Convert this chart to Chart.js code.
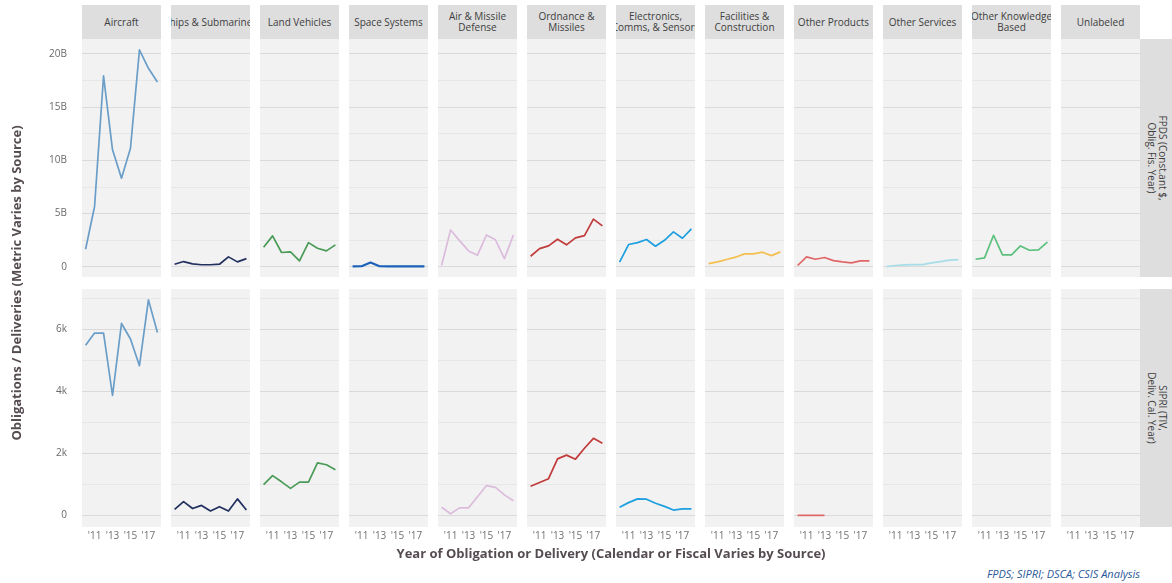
<!DOCTYPE html>
<html>
<head>
<meta charset="utf-8">
<script src="https://cdn.jsdelivr.net/npm/chart.js@4.4.1/dist/chart.umd.min.js"></script>
<style>
  html, body { margin: 0; padding: 0; background: #ffffff; }
  #wrap { position: relative; width: 1172px; height: 583px; overflow: hidden; font-family: 'Open Sans', sans-serif; }
  .strip { position: absolute; background: #dedede; color: #3d3d3d; font-size: 10px; line-height: 10.7px;
           display: flex; align-items: center; justify-content: center; text-align: center;
           white-space: pre; overflow: hidden; }
  .rstrip { position: absolute; background: #dedede; overflow: hidden; }
  .rstrip .inner { position: absolute; color: #3d3d3d; font-size: 10px; line-height: 10.7px;
                   display: flex; align-items: center; justify-content: center; text-align: center;
                   white-space: pre; transform: rotate(90deg); }
  .panel { position: absolute; }
  .title { position: absolute; color: #554c52; font-weight: 700; font-size: 13px; text-align: center; white-space: nowrap; }
  .caption { position: absolute; color: #2b5797; font-style: italic; font-size: 11px; white-space: nowrap; }
</style>
</head>
<body>
<div id="wrap"></div>
<script>
// Years on the x axis and the labelled ticks
const years = [2010, 2011, 2012, 2013, 2014, 2015, 2016, 2017, 2018];
const xTickYears = [2011, 2013, 2015, 2017];

// Facet columns (product / service categories)
const categories = [
  'Aircraft', 'Ships & Submarines', 'Land Vehicles', 'Space Systems',
  'Air & Missile\nDefense', 'Ordnance &\nMissiles', 'Electronics,\nComms, & Sensors',
  'Facilities &\nConstruction', 'Other Products', 'Other Services',
  'Other Knowledge\nBased', 'Unlabeled'
];
const categoryColors = [
  '#6a9ec8', '#22305f', '#4a9b57', '#1a62b8', '#dcbcdc', '#c23b3b',
  '#1d9fe0', '#f4bf4f', '#e06666', '#a6dde8', '#5bbf7d', '#999999'
];

// Facet rows (data source)
const sources = ['FPDS (Const.ant $,\nOblig. Fis. Year)', 'SIPRI (TIV,\nDeliv. Cal. Year)'];

// FPDS obligations, billions of constant dollars
const fpdsAircraft      = [1.66, 5.67, 17.93, 10.99, 8.33, 11.14, 20.38, 18.65, 17.37];
const fpdsShips         = [0.25, 0.50, 0.28, 0.20, 0.20, 0.25, 0.94, 0.47, 0.78];
const fpdsLand          = [1.85, 2.91, 1.35, 1.41, 0.56, 2.28, 1.75, 1.50, 2.07];
const fpdsSpace         = [0.05, 0.06, 0.41, 0.06, 0.04, 0.04, 0.04, 0.04, 0.04];
const fpdsAirMissile    = [0.13, 3.47, 2.47, 1.50, 1.10, 3.00, 2.54, 0.78, 3.00];
const fpdsOrdnance      = [1.00, 1.72, 1.97, 2.60, 2.07, 2.72, 2.94, 4.48, 3.85];
const fpdsElectronics   = [0.44, 2.10, 2.28, 2.57, 1.94, 2.50, 3.29, 2.69, 3.57];
const fpdsFacilities    = [0.31, 0.47, 0.69, 0.91, 1.22, 1.22, 1.38, 1.06, 1.41];
const fpdsOtherProducts = [0.13, 0.94, 0.72, 0.88, 0.59, 0.47, 0.38, 0.56, 0.56];
const fpdsOtherServices = [0.03, 0.13, 0.19, 0.22, 0.22, 0.38, 0.50, 0.63, 0.69];
const fpdsKnowledge     = [0.72, 0.85, 2.97, 1.13, 1.13, 1.97, 1.56, 1.60, 2.32];
const fpdsUnlabeled     = [];

// SIPRI deliveries, thousands of TIV
const sipriAircraft      = [5.48, 5.87, 5.87, 3.86, 6.18, 5.68, 4.82, 6.94, 5.89];
const sipriShips         = [0.19, 0.44, 0.22, 0.32, 0.14, 0.28, 0.14, 0.53, 0.17];
const sipriLand          = [0.99, 1.28, 1.08, 0.87, 1.07, 1.07, 1.69, 1.63, 1.47];
const sipriSpace         = [];
const sipriAirMissile    = [0.26, 0.05, 0.24, 0.24, 0.60, 0.96, 0.90, 0.66, 0.47];
const sipriOrdnance      = [0.94, 1.06, 1.18, 1.82, 1.94, 1.81, 2.16, 2.48, 2.32];
const sipriElectronics   = [0.26, 0.41, 0.53, 0.52, 0.39, 0.29, 0.17, 0.21, 0.21];
const sipriFacilities    = [];
const sipriOtherProducts = [0, 0, 0, 0];
const sipriOtherServices = [];
const sipriKnowledge     = [];
const sipriUnlabeled     = [];

// Y tick labels / grid values per row
const fpdsTicks  = [0, 5, 10, 15, 20];
const fpdsMinor  = [2.5, 7.5, 12.5, 17.5];
const sipriTicks = [0, 2, 4, 6];
const sipriMinor = [1, 3, 5, 7];

const fpdsSeries = [fpdsAircraft, fpdsShips, fpdsLand, fpdsSpace, fpdsAirMissile, fpdsOrdnance,
  fpdsElectronics, fpdsFacilities, fpdsOtherProducts, fpdsOtherServices, fpdsKnowledge, fpdsUnlabeled];
const sipriSeries = [sipriAircraft, sipriShips, sipriLand, sipriSpace, sipriAirMissile, sipriOrdnance,
  sipriElectronics, sipriFacilities, sipriOtherProducts, sipriOtherServices, sipriKnowledge, sipriUnlabeled];

// Layout of the facet grid
const FONT = "'Open Sans', sans-serif";
const PANEL_LEFT = 82, PANEL_STEP = 89, PANEL_W = 79, PANEL_H = 238;
const ROW_TOP = [39, 289];
const Y_AXIS_W = 60, X_AXIS_H = 20;
const STRIP_TOP = 5, STRIP_H = 34;

const rows = [
  { series: fpdsSeries, min: -0.95, max: 21.4, major: fpdsTicks, minor: fpdsMinor, fmt: v => v === 0 ? '0' : v + 'B' },
  { series: sipriSeries, min: -0.375, max: 7.29, major: sipriTicks, minor: sipriMinor, fmt: v => v === 0 ? '0' : v + 'k' }
];

const wrap = document.getElementById('wrap');

function el(cls, style, text) {
  const d = document.createElement('div');
  d.className = cls;
  Object.assign(d.style, style);
  if (text !== undefined) d.textContent = text;
  wrap.appendChild(d);
  return d;
}

// Column strips
categories.forEach((name, c) => {
  el('strip', { left: (PANEL_LEFT + PANEL_STEP * c) + 'px', top: STRIP_TOP + 'px',
                width: PANEL_W + 'px', height: STRIP_H + 'px' }, name);
});

// Row strips on the right
sources.forEach((name, r) => {
  const s = el('rstrip', { left: (PANEL_LEFT + PANEL_STEP * 12 - 10) + 'px', top: ROW_TOP[r] + 'px',
                           width: '34px', height: PANEL_H + 'px' });
  const inner = document.createElement('div');
  inner.className = 'inner';
  inner.textContent = name;
  Object.assign(inner.style, { width: PANEL_H + 'px', height: '34px',
    left: ((34 - PANEL_H) / 2) + 'px', top: ((PANEL_H - 34) / 2) + 'px' });
  s.appendChild(inner);
});

// One small line chart per facet
function makePanel(r, c) {
  const row = rows[r];
  const isLeft = c === 0, isBottom = r === 1;
  const cv = document.createElement('canvas');
  const w = PANEL_W + (isLeft ? Y_AXIS_W : 0);
  const h = PANEL_H + (isBottom ? X_AXIS_H : 0);
  cv.width = w; cv.height = h;
  cv.className = 'panel';
  cv.style.left = (PANEL_LEFT + PANEL_STEP * c - (isLeft ? Y_AXIS_W : 0)) + 'px';
  cv.style.top = ROW_TOP[r] + 'px';
  cv.style.width = w + 'px'; cv.style.height = h + 'px';
  wrap.appendChild(cv);

  const values = row.series[c];
  const gridVals = row.major.concat(row.minor).sort((a, b) => a - b);

  new Chart(cv, {
    type: 'line',
    data: {
      datasets: values.length ? [{
        data: values.map((v, i) => ({ x: years[i], y: v })),
        borderColor: categoryColors[c],
        borderWidth: c === 3 ? 2.2 : 1.7,
        borderJoinStyle: 'round',
        pointRadius: 0,
        tension: 0,
        fill: false
      }] : []
    },
    options: {
      responsive: false,
      maintainAspectRatio: false,
      animation: false,
      events: [],
      layout: { padding: 0 },
      plugins: { legend: { display: false }, tooltip: { enabled: false } },
      scales: {
        x: {
          type: 'linear', min: 2009.6, max: 2018.4,
          display: isBottom,
          grid: { display: false, drawTicks: false },
          border: { display: false },
          afterBuildTicks: s => { s.ticks = xTickYears.map(v => ({ value: v })); },
          afterFit: s => { s.height = isBottom ? X_AXIS_H : 0; },
          ticks: { padding: 3, color: '#707070', font: { family: FONT, size: 10 },
                   maxRotation: 0, minRotation: 0, autoSkip: false,
                   callback: v => "'" + String(v).slice(2) }
        },
        y: {
          type: 'linear', min: row.min, max: row.max,
          afterBuildTicks: s => { s.ticks = gridVals.map(v => ({ value: v })); },
          afterFit: s => { s.width = isLeft ? Y_AXIS_W : 0; s.paddingTop = 0; s.paddingBottom = 0; },
          grid: { drawTicks: false, lineWidth: 1,
                  color: ctx => row.major.includes(ctx.tick.value) ? '#dadada' : '#e7e7e7' },
          border: { display: false },
          ticks: { display: isLeft, padding: 15, color: '#6a6a6a', autoSkip: false,
                   font: { family: FONT, size: 10 },
                   callback: v => row.major.includes(v) ? row.fmt(v) : '' }
        }
      }
    },
    plugins: [{
      id: 'panelBg',
      beforeDraw(chart) {
        const a = chart.chartArea, g = chart.ctx;
        g.save();
        g.fillStyle = '#f2f2f2';
        g.fillRect(a.left, a.top, a.right - a.left, a.bottom - a.top);
        g.restore();
      }
    }]
  });
}

for (let r = 0; r < 2; r++) for (let c = 0; c < categories.length; c++) makePanel(r, c);

// Axis titles and source note
el('title', { width: '500px', height: '20px', lineHeight: '20px',
  left: (16 - 250) + 'px', top: (283 - 10) + 'px', transform: 'rotate(-90deg)' },
  'Obligations / Deliveries (Metric Varies by Source)');
el('title', { width: '600px', left: (611 - 300) + 'px', top: '544px', lineHeight: '18px' },
  'Year of Obligation or Delivery (Calendar or Fiscal Varies by Source)');
el('caption', { right: '32px', top: '566px', lineHeight: '16px' }, 'FPDS; SIPRI; DSCA; CSIS Analysis');
</script>
</body>
</html>
